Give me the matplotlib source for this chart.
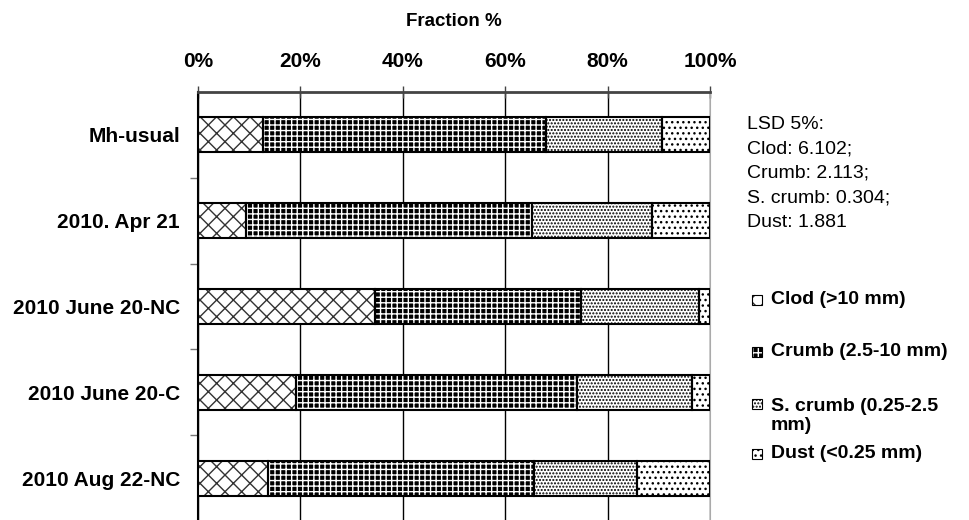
import matplotlib
matplotlib.use("Agg")
import matplotlib.pyplot as plt
from matplotlib.patches import Rectangle

plt.rcParams['font.family'] = ['Liberation Sans', 'DejaVu Sans']
plt.rcParams['hatch.linewidth'] = 1.0

# Dane: udział frakcji (%) dla każdego terminu
samples = ["Mh-usual", "2010. Apr 21", "2010 June 20-NC", "2010 June 20-C", "2010 Aug 22-NC"]
clod = [12.6, 9.3, 34.5, 19.2, 13.6]
crumb = [55.4, 56.0, 40.3, 54.9, 52.1]
s_crumb = [22.6, 23.3, 23.0, 22.3, 20.1]
dust = [9.4, 11.4, 2.2, 3.6, 14.2]

series = [clod, crumb, s_crumb, dust]
legend_labels = ["Clod (>10 mm)", "Crumb (2.5-10 mm)", "S. crumb (0.25-2.5\nmm)", "Dust (<0.25 mm)"]
# (kolor tła, kolor kreskowania, wzór)
styles = [("white", "#333333", "xx"),
          ("black", "white", "+++"),
          ("white", "black", "....."),
          ("white", "black", "...")]

lsd_text = "LSD 5%:\nClod: 6.102;\nCrumb: 2.113;\nS. crumb: 0.304;\nDust: 1.881"

fig = plt.figure(figsize=(9.69, 5.2), dpi=100)
ax = fig.add_axes([198 / 969, -1 / 520, 512 / 969, 429 / 520])

ypos = list(range(len(samples)))
left = [0.0] * len(samples)
for values, (face, hcol, hatch) in zip(series, styles):
    ax.barh(ypos, values, left=left, height=0.41, color=face,
            hatch=hatch, edgecolor=hcol, linewidth=0, zorder=3)
    ax.barh(ypos, values, left=left, height=0.41, fill=False,
            edgecolor="black", linewidth=1.5, zorder=4)
    left = [a + b for a, b in zip(left, values)]

ax.set_xlim(0, 100)
ax.set_ylim(len(samples) - 0.5, -0.5)

ax.xaxis.tick_top()
ax.set_xticks(range(0, 101, 20))
ax.set_xticklabels([f"{v}%" for v in range(0, 101, 20)], fontsize=15, fontweight="bold")
ax.tick_params(axis="x", direction="inout", length=8, width=1, color="#444444", pad=11)
ax.xaxis.grid(True, color="black", linewidth=1)
ax.set_axisbelow(True)

ax.set_yticks(ypos)
ax.set_yticklabels(samples, fontsize=15, fontweight="bold")
ax.set_yticks([y + 0.5 for y in ypos[:-1]], minor=True)
ax.tick_params(axis="y", which="major", length=0, pad=13)
ax.tick_params(axis="y", which="minor", length=6, width=1, color="#777777", direction="out")

ax.spines["bottom"].set_visible(False)
ax.spines["top"].set_color("#444444")
ax.spines["top"].set_linewidth(2)
ax.spines["left"].set_color("black")
ax.spines["left"].set_linewidth(1.5)
ax.spines["right"].set_color("#aaaaaa")

fig.text(454 / 969, 1 - 22 / 520, "Fraction %", ha="center", va="center",
         fontsize=13.5, fontweight="bold")

fig.text(747 / 969, 1 - 116 / 520, lsd_text, ha="left", va="top",
         fontsize=14, linespacing=1.57)

# Legenda rysowana ręcznie
box_y = [300, 352, 404, 454]
text_y = [300, 352, 416, 454]
box_w, box_h = 10 / 969, 10 / 520
for (face, hcol, hatch), label, by, ty in zip(styles, legend_labels, box_y, text_y):
    fy = 1 - by / 520
    fig.add_artist(Rectangle((752 / 969, fy - box_h / 2), box_w, box_h,
                             transform=fig.transFigure, facecolor=face,
                             hatch=hatch, edgecolor=hcol, linewidth=0))
    fig.add_artist(Rectangle((752 / 969, fy - box_h / 2), box_w, box_h,
                             transform=fig.transFigure, fill=False,
                             edgecolor="black", linewidth=0.8))
    fig.text(771 / 969, 1 - ty / 520, label, ha="left", va="center",
             fontsize=14, fontweight="bold", linespacing=1.1)

fig.savefig("out.png", dpi=100)
